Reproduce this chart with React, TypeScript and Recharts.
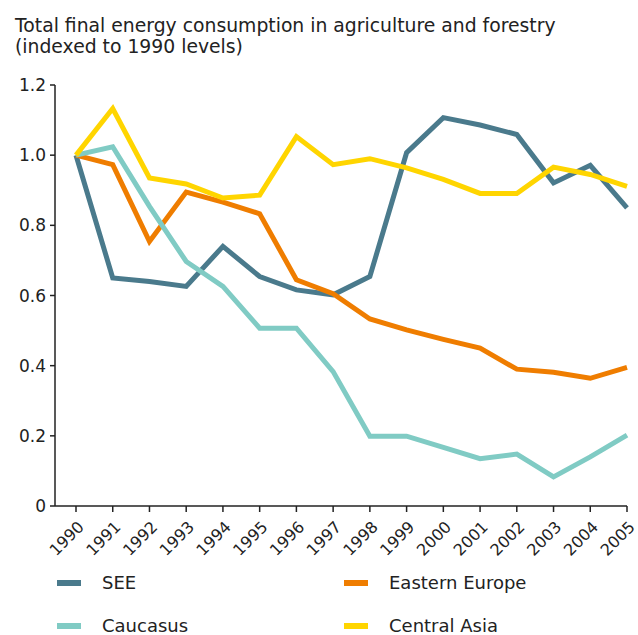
import { Line, LineChart, XAxis, YAxis } from "recharts";

const years = [
  1990, 1991, 1992, 1993, 1994, 1995, 1996, 1997, 1998, 1999, 2000, 2001, 2002,
  2003, 2004, 2005,
];
const see = [
  1.0, 0.65, 0.64, 0.626, 0.74, 0.654, 0.616, 0.602, 0.654, 1.007, 1.107, 1.086,
  1.059, 0.921, 0.971, 0.85,
];
const easternEurope = [
  1.0, 0.973, 0.754, 0.895, 0.866, 0.833, 0.645, 0.605, 0.533, 0.502, 0.475,
  0.45, 0.39, 0.381, 0.364, 0.395,
];
const caucasus = [
  1.0, 1.024, 0.854, 0.697, 0.626, 0.507, 0.507, 0.383, 0.199, 0.199, 0.167,
  0.135, 0.148, 0.083, 0.14, 0.202,
];
const centralAsia = [
  1.0, 1.133, 0.935, 0.918, 0.878, 0.886, 1.053, 0.973, 0.99, 0.964, 0.931,
  0.891, 0.891, 0.966, 0.945, 0.911,
];
const yTicks = [0, 0.2, 0.4, 0.6, 0.8, 1.0, 1.2];

const series = [
  { key: "see", name: "SEE", color: "#4a7a8c" },
  { key: "easternEurope", name: "Eastern Europe", color: "#ef7d00" },
  { key: "caucasus", name: "Caucasus", color: "#80cbc4" },
  { key: "centralAsia", name: "Central Asia", color: "#ffd500" },
];

const data = years.map((year, i) => ({
  year,
  see: see[i],
  easternEurope: easternEurope[i],
  caucasus: caucasus[i],
  centralAsia: centralAsia[i],
}));

const font = "'DejaVu Sans', Verdana, sans-serif";

const YearTick = ({ x, y, payload }: any) => (
  <g transform={`translate(${x + 5},${y + 10}) rotate(-45)`}>
    <text textAnchor="end" dy="0.35em" fontSize={16} fill="#222" fontFamily={font}>
      {payload.value}
    </text>
  </g>
);

// legend sits in two columns under the axis
const legendCols = [57, 344];
const legendRows = [583, 626];

const App = () => (
  <div style={{ position: "absolute", left: 0, top: 0, width: 638, height: 635, fontFamily: font, color: "#222" }}>
    <div style={{ position: "absolute", left: 15, top: 15, fontSize: 18.8, lineHeight: "21px", whiteSpace: "nowrap" }}>
      Total final energy consumption in agriculture and forestry
      <br />
      (indexed to 1990 levels)
    </div>
    <LineChart width={638} height={635} data={data} margin={{ top: 85, right: 11, bottom: 59, left: 0 }}>
      <XAxis
        dataKey="year"
        type="number"
        domain={[1990, 2005]}
        ticks={years}
        padding={{ left: 21, right: 0 }}
        tick={<YearTick />}
        tickSize={6}
        stroke="#222"
        strokeWidth={1.5}
        height={70}
        interval={0}
      />
      <YAxis
        domain={[0, 1.2]}
        ticks={yTicks}
        tickFormatter={(v: number) => (v === 0 ? "0" : v.toFixed(1))}
        tick={{ fontSize: 17, fill: "#222", fontFamily: font }}
        tickSize={5}
        tickMargin={4}
        stroke="#222"
        strokeWidth={1.5}
        width={55}
      />
      {series.map((s) => (
        <Line
          key={s.key}
          dataKey={s.key}
          name={s.name}
          stroke={s.color}
          strokeWidth={5}
          dot={false}
          type="linear"
          isAnimationActive={false}
        />
      ))}
    </LineChart>
    {series.map((s, i) => (
      <div
        key={s.key}
        style={{
          position: "absolute",
          left: legendCols[i % 2],
          top: legendRows[Math.floor(i / 2)] - 9,
          height: 18,
          display: "flex",
          alignItems: "center",
          fontSize: 18,
          lineHeight: "18px",
          whiteSpace: "nowrap",
        }}
      >
        <span style={{ display: "inline-block", width: 24, height: 6, background: s.color, marginRight: 21 }} />
        {s.name}
      </div>
    ))}
  </div>
);

export default App;
